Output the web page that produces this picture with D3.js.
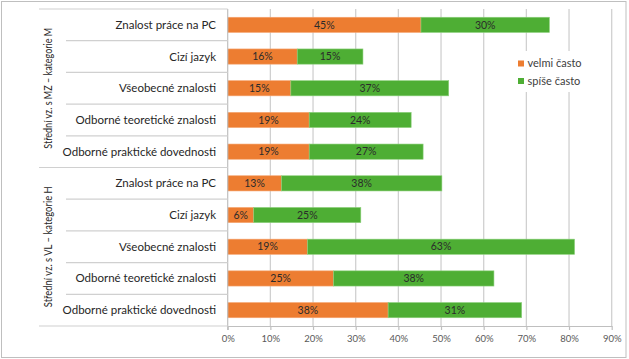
<!DOCTYPE html>
<html><head><meta charset="utf-8">
<script src="https://cdn.jsdelivr.net/npm/d3@7"></script>
<style>
html,body{margin:0;padding:0;background:#fff;}
svg{display:block;font-family:Lato,"Open Sans",sans-serif;}
</style></head>
<body>
<svg id="chart" width="629" height="359"></svg>
<script>
const groups = ["Střední vz. s MZ – kategorie M", "Střední vz. s VL – kategorie H"];
const categories = ["Znalost práce na PC", "Cizí jazyk", "Všeobecné znalosti", "Odborné teoretické znalosti", "Odborné praktické dovednosti"];
const velmiM = [45.3, 16.3, 14.8, 19.1, 19.1];
const spiseM = [30.1, 15.4, 37.0, 23.9, 26.7];
const velmiH = [12.6, 6.1, 18.7, 24.8, 37.6];
const spiseH = [37.6, 25.1, 62.6, 37.6, 31.3];
const seriesNames = ["velmi často", "spíše často"];
const xTicks = [0, 10, 20, 30, 40, 50, 60, 70, 80, 90];
const colors = ["#ED7D31", "#4EAE34"];

const rows = [];
categories.forEach((c, i) => rows.push({g: 0, cat: c, v: [velmiM[i], spiseM[i]], key: "M" + i}));
categories.forEach((c, i) => rows.push({g: 1, cat: c, v: [velmiH[i], spiseH[i]], key: "H" + i}));

const svg = d3.select("#chart");
const m = {left: 227.7, right: 611.7, top: 9, bottom: 326};

// outer frame
svg.append("rect").attr("x", 1.5).attr("y", 1.5).attr("width", 624.5).attr("height", 356)
  .attr("fill", "#fff").attr("stroke", "#bfbfbf").attr("stroke-width", 1);

const x = d3.scaleLinear().domain([0, 90]).range([m.left, m.right]);
const y = d3.scaleBand().domain(rows.map(r => r.key)).range([m.top, m.bottom]).paddingInner(0.52).paddingOuter(0.26);
const yb = d3.scaleBand().domain(rows.map(r => r.key)).range([m.top, m.bottom]);

// gridlines
svg.append("g").selectAll("line").data(xTicks.slice(1)).join("line")
  .attr("x1", d => x(d)).attr("x2", d => x(d)).attr("y1", m.top).attr("y2", m.bottom)
  .attr("stroke", "#d0d0d0").attr("stroke-width", 1.3);

// bars
rows.forEach(r => {
  let acc = 0;
  r.v.forEach((val, s) => {
    const x0 = x(acc), x1 = x(acc + val);
    svg.append("rect").attr("x", x0).attr("y", y(r.key)).attr("width", x1 - x0).attr("height", y.bandwidth())
      .attr("fill", colors[s]).attr("stroke", s === 0 ? "#F5A774" : "#8FD17E").attr("stroke-width", 0.6);
    svg.append("text").attr("x", (x0 + x1) / 2).attr("y", y(r.key) + y.bandwidth() / 2).attr("dy", "0.35em")
      .attr("text-anchor", "middle").attr("font-size", 10.5).attr("fill", "#2b2b2b")
      .text(d3.format(".0f")(val) + "%");
    acc += val;
  });
});

// x axis
const xa = svg.append("g").attr("transform", `translate(0,${m.bottom})`)
  .call(d3.axisBottom(x).tickValues(xTicks).tickFormat(d => d + "%").tickSize(4).tickSizeOuter(0));
xa.select(".domain").attr("stroke", "#bfbfbf").attr("stroke-width", 1.2);
xa.selectAll(".tick line").attr("stroke", "#bfbfbf").attr("stroke-width", 1.2);
xa.selectAll(".tick text").attr("font-size", 9.5).attr("fill", "#595959").attr("font-family", "Lato,'Open Sans',sans-serif").attr("dy", "0.95em");

// category axis
svg.append("line").attr("x1", m.left).attr("x2", m.left).attr("y1", m.top).attr("y2", m.bottom + 4)
  .attr("stroke", "#bfbfbf").attr("stroke-width", 1.2);
const sepYs = [];
rows.forEach((r, i) => {
  const yy = yb(r.key);
  const isGroup = i === 0 || i === 5;
  sepYs.push({y: yy, left: isGroup ? 39 : 66});
});
sepYs.push({y: m.bottom, left: 39});
svg.append("g").selectAll("line").data(sepYs).join("line")
  .attr("x1", d => d.left).attr("x2", m.left).attr("y1", d => d.y).attr("y2", d => d.y)
  .attr("stroke", "#d0d0d0").attr("stroke-width", 1.2);

svg.append("g").selectAll("text").data(rows).join("text")
  .attr("x", 216).attr("y", d => yb(d.key) + yb.bandwidth() / 2).attr("dy", "0.35em")
  .attr("text-anchor", "end").attr("font-size", 11.5).attr("fill", "#262626").text(d => d.cat);

groups.forEach((g, gi) => {
  const ys = rows.filter(r => r.g === gi).map(r => r.key);
  const cy = (yb(ys[0]) + yb(ys[ys.length - 1]) + yb.bandwidth()) / 2;
  svg.append("text").attr("transform", `translate(48,${cy}) rotate(-90)`).attr("dy", "0.35em")
    .attr("text-anchor", "middle").attr("font-size", 10.5).attr("fill", "#262626")
    .attr("textLength", 121).attr("lengthAdjust", "spacingAndGlyphs").text(g);
});

// legend
const lg = svg.append("g");
lg.append("rect").attr("x", 514).attr("y", 51).attr("width", 90).attr("height", 41).attr("fill", "#fff");
seriesNames.forEach((n, i) => {
  const yy = 63.5 + i * 17.5;
  lg.append("rect").attr("x", 518).attr("y", yy - 3).attr("width", 6).attr("height", 6).attr("fill", colors[i]);
  lg.append("text").attr("x", 527.5).attr("y", yy).attr("dy", "0.35em").attr("font-size", 11).attr("fill", "#404040").text(n);
});
</script>
</body></html>
